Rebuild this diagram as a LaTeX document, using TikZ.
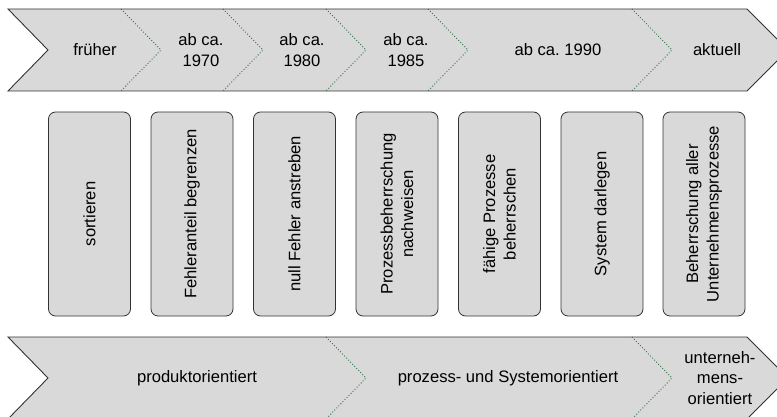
\documentclass[tikz,border=0pt]{standalone}
\usepackage{fontspec}
\setmainfont{Liberation Sans}
\begin{document}
\frenchspacing
\begin{tikzpicture}[x=1pt,y=-1pt,
  band/.style={fill=bandgray, draw=edgegray, line width=0.9pt, line join=miter},
  sep/.style={draw=sepgreen, dotted, line width=0.9pt},
  stage/.style={box, minimum width=82pt, minimum height=204pt, rounded corners=7pt},
  box/.style={fill=bandgray, draw=edgegray, line width=0.8pt},
  lbl/.style={font=\fontsize{16.6}{20.5}\selectfont\frenchspacing, align=center, text=black, inner sep=0pt},
  vlbl/.style={lbl, rotate=90}]
\definecolor{bandgray}{HTML}{D9D9D9}
\definecolor{edgegray}{HTML}{333333}
\definecolor{sepgreen}{HTML}{2E6B40}
\useasboundingbox (0,0) rectangle (777,417);

% upper timeline arrow
\path[band] (8,9) -- (747,9) -- (788,50) -- (747,91) -- (8,91) -- (48,50) -- cycle;
\foreach \x in {121,223,326,428,632}
  \draw[sep] (\x,9) -- (\x+40,50) -- (\x,91);

% period labels
\node[lbl] (t1) at (95,50) {früher};
\node[lbl] (t2) at (201,50) {ab ca.\\1970};
\node[lbl] (t3) at (302,50) {ab ca.\\1980};
\node[lbl] (t4) at (406,50) {ab ca.\\1985};
\node[lbl] (t5) at (558,50) {ab ca. 1990};
\node[lbl] (t6) at (717,50) {aktuell};

% quality stages
\node[stage] (s1) at (89.5,214) {};
\node[stage] (s2) at (192,214) {};
\node[stage] (s3) at (294.5,214) {};
\node[stage] (s4) at (397,214) {};
\node[stage] (s5) at (499.5,214) {};
\node[stage] (s6) at (602,214) {};
\node[stage] (s7) at (704,214) {};
\node[vlbl] at (s1) {sortieren};
\node[vlbl] at (s2) {Fehleranteil begrenzen};
\node[vlbl] at (s3) {null Fehler anstreben};
\node[vlbl] at (s4) {Prozessbeherrschung\\nachweisen};
\node[vlbl] at (s5) {fähige Prozesse\\beherrschen};
\node[vlbl] at (s6) {System darlegen};
\node[vlbl] at (s7) {Beherrschung aller\\Unternehmensprozesse};

% lower orientation arrow
\path[band] (8,337) -- (747,337) -- (788,378) -- (747,419) -- (8,419) -- (48,378) -- cycle;
\foreach \x in {326,632}
  \draw[sep] (\x,337) -- (\x+40,378) -- (\x,419);

\node[lbl] (o1) at (197,378) {produktorientiert};
\node[lbl] (o2) at (508,378) {prozess- und Systemorientiert};
\node[lbl] (o3) at (720,378) {unterneh-\\mens-\\orientiert};
\end{tikzpicture}
\end{document}
